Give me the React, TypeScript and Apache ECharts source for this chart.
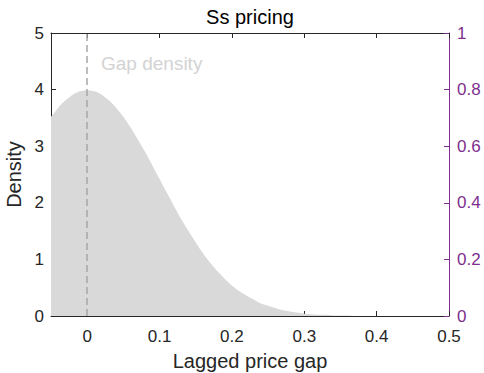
import React, { useEffect, useRef } from "react";
import * as echarts from "echarts";

const titleText = "Ss pricing";
const xLabel = "Lagged price gap";
const yLabel = "Density";
const densityLabel = "Gap density";

const gapX = [
  -0.05, -0.04, -0.03, -0.02, -0.01, 0.0, 0.01, 0.02, 0.03, 0.04, 0.05, 0.06, 0.07, 0.08, 0.09,
  0.1, 0.11, 0.12, 0.13, 0.14, 0.15, 0.16, 0.17, 0.18, 0.19, 0.2, 0.21, 0.22, 0.23, 0.24, 0.25,
  0.26, 0.27, 0.28, 0.29, 0.3, 0.31, 0.32, 0.33, 0.34, 0.35, 0.36, 0.37, 0.38, 0.39, 0.4, 0.41,
  0.42, 0.43, 0.44, 0.45, 0.46, 0.47, 0.48, 0.49, 0.5,
];
const densityY = [
  3.52, 3.68, 3.81, 3.91, 3.97, 3.99, 3.97, 3.91, 3.81, 3.68, 3.52, 3.33, 3.12, 2.9, 2.66,
  2.42, 2.18, 1.94, 1.71, 1.5, 1.3, 1.11, 0.94, 0.79, 0.66, 0.54, 0.44, 0.36, 0.29, 0.22, 0.18,
  0.14, 0.1, 0.08, 0.06, 0.04, 0.03, 0.02, 0.02, 0.01, 0.01, 0.01, 0.0, 0.0, 0.0, 0.0, 0.0,
  0.0, 0.0, 0.0, 0.0, 0.0, 0.0, 0.0, 0.0, 0.0,
];
const xTicks = [0, 0.1, 0.2, 0.3, 0.4, 0.5];
const markerX = 0;

const FONT = "'Liberation Sans', Arial, Helvetica, sans-serif";
const DARK = "#262626";
const PURPLE = "#7E2F8E";

export default function App() {
  const ref = useRef<HTMLDivElement>(null);
  useEffect(() => {
    if (!ref.current) return;
    const chart = echarts.init(ref.current, null, { renderer: "svg" });
    const gridLeft = 51;
    const gridRight = 35;
    const plotCenter = (gridLeft + (484 - gridRight)) / 2;
    chart.setOption({
      animation: false,
      textStyle: { fontFamily: FONT },
      grid: {
        left: gridLeft,
        right: gridRight,
        top: 33,
        bottom: 57,
        containLabel: false,
        outerBoundsMode: "none",
      },
      graphic: [
        {
          type: "text",
          x: plotCenter,
          y: 17,
          style: {
            text: titleText,
            align: "center",
            verticalAlign: "middle",
            fontSize: 20,
            fontFamily: FONT,
            fill: "#000",
          },
        },
        {
          type: "text",
          x: 101,
          y: 63,
          style: {
            text: densityLabel,
            align: "left",
            verticalAlign: "middle",
            fontSize: 19,
            fontFamily: FONT,
            fill: "#d3d3d3",
          },
        },
      ],
      xAxis: [
        {
          type: "value",
          position: "bottom",
          min: -0.05,
          max: 0.5,
          name: xLabel,
          nameLocation: "middle",
          nameGap: 35,
          nameTextStyle: { fontSize: 20, color: DARK, fontFamily: FONT },
          axisLine: { show: true, onZero: false, lineStyle: { color: DARK, width: 1 } },
          axisTick: { show: true, inside: true, length: 5, lineStyle: { color: DARK }, customValues: xTicks },
          axisLabel: {
            show: true,
            margin: 12,
            fontSize: 17,
            color: DARK,
            fontFamily: FONT,
            customValues: xTicks,
            formatter: (v: number) => String(v),
          },
          splitLine: { show: false },
        },
        {
          type: "value",
          position: "top",
          min: -0.05,
          max: 0.5,
          axisLine: { show: true, onZero: false, lineStyle: { color: DARK, width: 1 } },
          axisTick: { show: true, inside: true, length: 5, lineStyle: { color: DARK }, customValues: xTicks },
          axisLabel: { show: false },
          splitLine: { show: false },
        },
      ],
      yAxis: [
        {
          type: "value",
          position: "left",
          min: 0,
          max: 5,
          interval: 1,
          name: yLabel,
          nameLocation: "middle",
          nameGap: 22,
          nameRotate: 90,
          nameTextStyle: { fontSize: 20, color: DARK, fontFamily: FONT },
          axisLine: { show: true, onZero: false, lineStyle: { color: DARK, width: 1 } },
          axisTick: { show: true, inside: true, length: 5, lineStyle: { color: DARK } },
          axisLabel: { margin: 7, fontSize: 17, color: DARK, fontFamily: FONT },
          splitLine: { show: false },
        },
        {
          type: "value",
          position: "right",
          min: 0,
          max: 1,
          interval: 0.2,
          axisLine: { show: true, onZero: false, lineStyle: { color: PURPLE, width: 1 } },
          axisTick: { show: true, inside: true, length: 5, lineStyle: { color: PURPLE } },
          axisLabel: { margin: 8, fontSize: 17, color: PURPLE, fontFamily: FONT },
          splitLine: { show: false },
        },
      ],
      series: [
        {
          type: "line",
          xAxisIndex: 0,
          yAxisIndex: 0,
          data: gapX.map((x, i) => [x, densityY[i]]),
          showSymbol: false,
          smooth: 0.2,
          lineStyle: { width: 0, color: "#d9d9d9" },
          itemStyle: { color: "#d9d9d9" },
          areaStyle: { color: "#d9d9d9", opacity: 1 },
          silent: true,
          z: 1,
          markLine: {
            silent: true,
            symbol: "none",
            label: { show: false },
            lineStyle: { color: "#a6a6a6", type: [7, 4], width: 1.5 },
            data: [{ xAxis: markerX }],
            z: 3,
          },
        },
      ],
    });
    return () => chart.dispose();
  }, []);
  return (
    <div
      ref={ref}
      style={{ position: "fixed", left: 0, top: 0, width: 484, height: 373, background: "#fff" }}
    />
  );
}
